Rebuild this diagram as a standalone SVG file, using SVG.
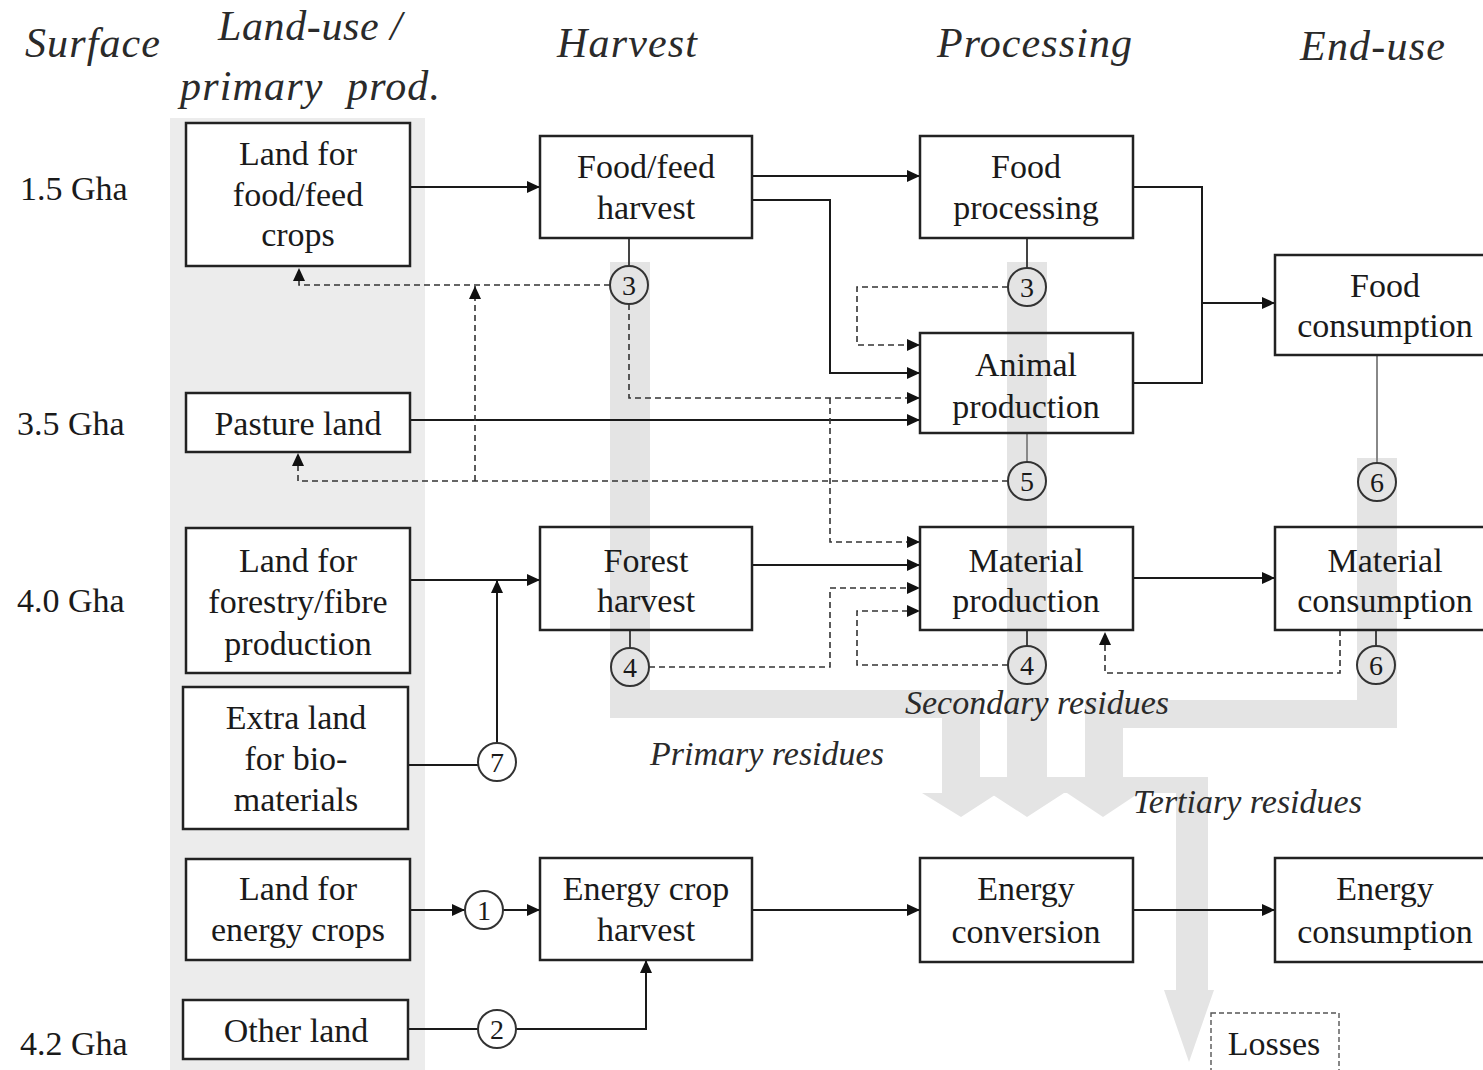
<svg xmlns="http://www.w3.org/2000/svg" width="1483" height="1070" viewBox="0 0 1483 1070">
<style>
.bg{fill:#ffffff}
.band{fill:#ececec}
.res{fill:#e4e4e4}
.box{fill:none;stroke:#222;stroke-width:2.5}
.wbox{fill:#fff;stroke:#222;stroke-width:2.5}
.t{font-family:'Liberation Serif','Times New Roman',serif;font-size:34px;fill:#1a1a1a;text-anchor:middle}
.g{font-family:'Liberation Serif','Times New Roman',serif;font-size:34px;fill:#1a1a1a}
.h{font-family:'Liberation Serif','Times New Roman',serif;font-size:42px;font-style:italic;fill:#2a2a2a}
.lab{font-family:'Liberation Serif','Times New Roman',serif;font-size:34px;font-style:italic;fill:#2a2a2a}
.num{font-family:'Liberation Serif','Times New Roman',serif;font-size:28px;fill:#1a1a1a;text-anchor:middle}
.circ{fill:none;stroke:#333;stroke-width:2}
.solid{fill:none;stroke:#1a1a1a;stroke-width:2}
.stub{fill:none;stroke:#444;stroke-width:2}
.gstub{fill:none;stroke:#888;stroke-width:2}
.dash{fill:none;stroke:#333;stroke-width:1.6;stroke-dasharray:6 4}
.loss{fill:none;stroke:#555;stroke-width:1.4;stroke-dasharray:5 3}
</style>
<defs>
<marker id="ah" markerUnits="userSpaceOnUse" markerWidth="13" markerHeight="12" refX="13" refY="6" orient="auto">
<path d="M0,0 L13,6 L0,12 z" fill="#111"/>
</marker>
</defs>
<rect class="bg" x="0" y="0" width="1483" height="1070"/>
<rect class="band" x="170" y="118" width="255" height="952"/>
<g id="residue-flows" class="res">
<path d="M610,262 H650 V690 H980 V777 H1007 V262 H1047 V777 H1085 V700 H1357 V458 H1397 V728 H1123 V777 H1208 V990 H1214 L1189,1062 L1164,990 H1176 V793 H1139 L1103,817 L1067,793 H1064 L1027,817 L990,793 H998 L961,817 L922,793 H942 V718 H610 Z"/>
</g>
<g id="headers">
<text class="h" x="25" y="57" textLength="135">Surface</text>
<text class="h" x="218" y="40" textLength="184">Land-use /</text>
<text class="h" x="180" y="100" textLength="260" xml:space="preserve">primary  prod.</text>
<text class="h" x="557" y="57" textLength="140">Harvest</text>
<text class="h" x="937" y="57" textLength="195">Processing</text>
<text class="h" x="1300" y="60" textLength="145">End-use</text>
</g>
<g id="surfaces">
<text class="g" x="20" y="200">1.5 Gha</text>
<text class="g" x="17" y="435">3.5 Gha</text>
<text class="g" x="17" y="612">4.0 Gha</text>
<text class="g" x="20" y="1055">4.2 Gha</text>
</g>
<g id="connectors">
<path class="solid" d="M410,187 H540" marker-end="url(#ah)"/>
<path class="solid" d="M752,176 H920" marker-end="url(#ah)"/>
<path class="solid" d="M752,200 H830 V373 H920" marker-end="url(#ah)"/>
<path class="solid" d="M410,420 H920" marker-end="url(#ah)"/>
<path class="solid" d="M1133,187 H1202 V383 H1133"/>
<path class="solid" d="M1202,303 H1275" marker-end="url(#ah)"/>
<path class="solid" d="M410,580 H540" marker-end="url(#ah)"/>
<path class="solid" d="M497,743 V580" marker-end="url(#ah)"/>
<path class="solid" d="M408,765 H478"/>
<path class="solid" d="M752,565 H920" marker-end="url(#ah)"/>
<path class="solid" d="M1133,578 H1275" marker-end="url(#ah)"/>
<path class="solid" d="M410,910 H465" marker-end="url(#ah)"/>
<path class="solid" d="M503,910 H540" marker-end="url(#ah)"/>
<path class="solid" d="M408,1029 H478"/>
<path class="solid" d="M516,1029 H646 V960" marker-end="url(#ah)"/>
<path class="solid" d="M752,910 H920" marker-end="url(#ah)"/>
<path class="solid" d="M1133,910 H1275" marker-end="url(#ah)"/>
<path class="stub" d="M629,238 V266"/>
<path class="stub" d="M1027,238 V268"/>
<path class="gstub" d="M1027,433 V462"/>
<path class="gstub" d="M1377,355 V463"/>
<path class="stub" d="M630,630 V648"/>
<path class="stub" d="M1027,630 V646"/>
<path class="stub" d="M1376,630 V646"/>
<path class="dash" d="M610,285 H299 V268" marker-end="url(#ah)"/>
<path class="dash" d="M475,481 V286" marker-end="url(#ah)"/>
<path class="dash" d="M1008,481 H298 V453" marker-end="url(#ah)"/>
<path class="dash" d="M629,304 V398 H920" marker-end="url(#ah)"/>
<path class="dash" d="M830,398 V542 H920" marker-end="url(#ah)"/>
<path class="dash" d="M1008,287 H857 V345 H920" marker-end="url(#ah)"/>
<path class="dash" d="M649,667 H830 V588 H920" marker-end="url(#ah)"/>
<path class="dash" d="M1008,665 H857 V611 H920" marker-end="url(#ah)"/>
<path class="dash" d="M1340,630 V673 H1105 V632" marker-end="url(#ah)"/>
</g>
<g id="n-land-food"><rect class="wbox" x="186" y="123" width="224" height="143"/><text class="t" x="298" y="165">Land for</text><text class="t" x="298" y="206">food/feed</text><text class="t" x="298" y="246">crops</text></g>
<g id="n-pasture"><rect class="wbox" x="186" y="393" width="224" height="59"/><text class="t" x="298" y="435">Pasture land</text></g>
<g id="n-land-forestry"><rect class="wbox" x="186" y="528" width="224" height="145"/><text class="t" x="298" y="572">Land for</text><text class="t" x="298" y="613">forestry/fibre</text><text class="t" x="298" y="655">production</text></g>
<g id="n-extra-land"><rect class="wbox" x="183" y="687" width="225" height="142"/><text class="t" x="296" y="729">Extra land</text><text class="t" x="296" y="770">for bio-</text><text class="t" x="296" y="811">materials</text></g>
<g id="n-land-energy"><rect class="wbox" x="186" y="859" width="224" height="101"/><text class="t" x="298" y="900">Land for</text><text class="t" x="298" y="941">energy crops</text></g>
<g id="n-other-land"><rect class="wbox" x="183" y="1000" width="225" height="59"/><text class="t" x="296" y="1042">Other land</text></g>
<g id="n-food-harvest"><rect class="box" x="540" y="136" width="212" height="102"/><text class="t" x="646" y="178">Food/feed</text><text class="t" x="646" y="219">harvest</text></g>
<g id="n-forest-harvest"><rect class="box" x="540" y="527" width="212" height="103"/><text class="t" x="646" y="572">Forest</text><text class="t" x="646" y="612">harvest</text></g>
<g id="n-energy-harvest"><rect class="box" x="540" y="858" width="212" height="102"/><text class="t" x="646" y="900">Energy crop</text><text class="t" x="646" y="941">harvest</text></g>
<g id="n-food-processing"><rect class="box" x="920" y="136" width="213" height="102"/><text class="t" x="1026" y="178">Food</text><text class="t" x="1026" y="219">processing</text></g>
<g id="n-animal"><rect class="box" x="920" y="333" width="213" height="100"/><text class="t" x="1026" y="376">Animal</text><text class="t" x="1026" y="418">production</text></g>
<g id="n-material-prod"><rect class="box" x="920" y="527" width="213" height="103"/><text class="t" x="1026" y="572">Material</text><text class="t" x="1026" y="612">production</text></g>
<g id="n-energy-conv"><rect class="box" x="920" y="858" width="213" height="104"/><text class="t" x="1026" y="900">Energy</text><text class="t" x="1026" y="943">conversion</text></g>
<g id="n-food-cons"><rect class="box" x="1275" y="255" width="220" height="100"/><text class="t" x="1385" y="297">Food</text><text class="t" x="1385" y="337">consumption</text></g>
<g id="n-material-cons"><rect class="box" x="1275" y="527" width="220" height="103"/><text class="t" x="1385" y="572">Material</text><text class="t" x="1385" y="612">consumption</text></g>
<g id="n-energy-cons"><rect class="box" x="1275" y="858" width="220" height="104"/><text class="t" x="1385" y="900">Energy</text><text class="t" x="1385" y="943">consumption</text></g>
<g id="n-losses"><rect class="loss" x="1211" y="1013" width="128" height="70"/><text class="t" x="1274" y="1055">Losses</text></g>
<g id="c3a"><circle class="circ" cx="629" cy="285" r="19"/><text class="num" x="629" y="295">3</text></g>
<g id="c3b"><circle class="circ" cx="1027" cy="287" r="19"/><text class="num" x="1027" y="297">3</text></g>
<g id="c5"><circle class="circ" cx="1027" cy="481" r="19"/><text class="num" x="1027" y="491">5</text></g>
<g id="c6a"><circle class="circ" cx="1377" cy="482" r="19"/><text class="num" x="1377" y="492">6</text></g>
<g id="c4a"><circle class="circ" cx="630" cy="667" r="19"/><text class="num" x="630" y="677">4</text></g>
<g id="c4b"><circle class="circ" cx="1027" cy="665" r="19"/><text class="num" x="1027" y="675">4</text></g>
<g id="c6b"><circle class="circ" cx="1376" cy="665" r="19"/><text class="num" x="1376" y="675">6</text></g>
<g id="c7"><circle class="circ" cx="497" cy="762" r="19"/><text class="num" x="497" y="772">7</text></g>
<g id="c1"><circle class="circ" cx="484" cy="910" r="19"/><text class="num" x="484" y="920">1</text></g>
<g id="c2"><circle class="circ" cx="497" cy="1029" r="19"/><text class="num" x="497" y="1039">2</text></g>
<g id="labels">
<text class="lab" x="650" y="765">Primary residues</text>
<text class="lab" x="905" y="714">Secondary residues</text>
<text class="lab" x="1133" y="813">Tertiary residues</text>
</g>
</svg>
